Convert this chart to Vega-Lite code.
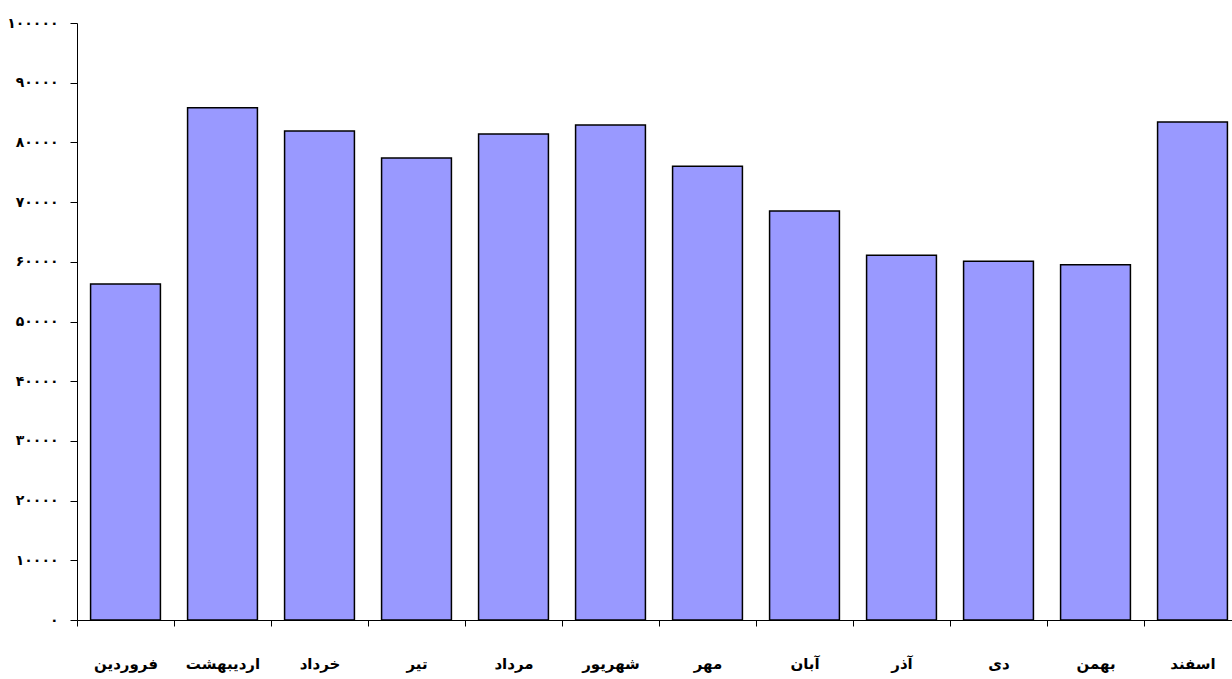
{
  "$schema": "https://vega.github.io/schema/vega-lite/v6.json",
  "autosize": "none",
  "width": 1164,
  "height": 597,
  "padding": {"left": 77, "top": 23, "right": 0, "bottom": 59},
  "background": "white",
  "config": {"view": {"stroke": null}},
  "data": {"values": [
    {"month": "فروردین", "value": 56300},
    {"month": "اردیبهشت", "value": 85800},
    {"month": "خرداد", "value": 81900},
    {"month": "تیر", "value": 77400},
    {"month": "مرداد", "value": 81400},
    {"month": "شهریور", "value": 82900},
    {"month": "مهر", "value": 76000},
    {"month": "آبان", "value": 68500},
    {"month": "آذر", "value": 61100},
    {"month": "دی", "value": 60100},
    {"month": "بهمن", "value": 59500},
    {"month": "اسفند", "value": 83400}
  ]},
  "mark": {"type": "bar", "fill": "#9999FF", "stroke": "#000000", "strokeWidth": 1.5},
  "encoding": {
    "x": {
      "field": "month", "type": "nominal", "sort": null,
      "scale": {"paddingInner": 0.28, "paddingOuter": 0.14},
      "axis": {
        "title": null, "labelAngle": 0,
        "tickOffset": -48.5, "labelOffset": 48.5,
        "domainColor": "#000000", "tickColor": "#000000", "tickSize": 6,
        "labelFont": "DejaVu Sans", "labelFontWeight": "bold", "labelFontSize": 15,
        "labelColor": "#000000", "labelPadding": 30
      }
    },
    "y": {
      "field": "value", "type": "quantitative",
      "scale": {"domain": [0, 100000], "nice": false},
      "axis": {
        "title": null, "values": [0, 10000, 20000, 30000, 40000, 50000, 60000, 70000, 80000, 90000, 100000],
        "labelExpr": "['۰','۱۰۰۰۰','۲۰۰۰۰','۳۰۰۰۰','۴۰۰۰۰','۵۰۰۰۰','۶۰۰۰۰','۷۰۰۰۰','۸۰۰۰۰','۹۰۰۰۰','۱۰۰۰۰۰'][round(datum.value/10000)]",
        "grid": false, "domainColor": "#000000", "tickColor": "#000000", "tickSize": 7,
        "labelFont": "DejaVu Sans", "labelFontWeight": "bold", "labelFontSize": 14,
        "labelColor": "#000000", "labelPadding": 12
      }
    }
  }
}
